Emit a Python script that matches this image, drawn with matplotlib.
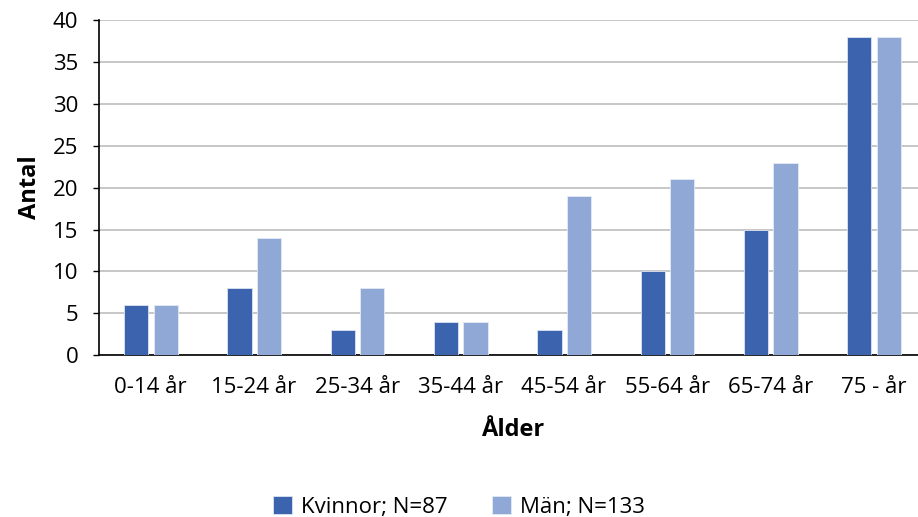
import numpy as np
import matplotlib.pyplot as plt

plt.rcParams['font.family'] = ['Open Sans', 'DejaVu Sans']

kategorier = ["0-14 år", "15-24 år", "25-34 år", "35-44 år", "45-54 år",
              "55-64 år", "65-74 år", "75 - år"]
kvinnor = [6, 8, 3, 4, 3, 10, 15, 38]
man = [6, 14, 8, 4, 19, 21, 23, 38]

fig = plt.figure(figsize=(9.18, 5.17), dpi=100)
# axeln går lite utanför högerkanten som i originalet
ax = fig.add_axes([0.108, 0.313, 0.9, 0.648])

x = np.arange(len(kategorier))
b = 0.235
ax.bar(x - 0.14, kvinnor, b, color="#3C64AE", edgecolor="#DDE4F2", linewidth=0.6,
       label="Kvinnor; N=87", zorder=3)
ax.bar(x + 0.145, man, b, color="#90A8D6", edgecolor="#E4EAF5", linewidth=0.6,
       label="Män; N=133", zorder=3)

ax.set_xlim(-0.5, len(kategorier) - 0.5)
ax.set_ylim(0, 40)
ax.set_yticks(range(0, 41, 5))
ax.set_xticks(x)
ax.set_xticklabels(kategorier, fontsize=16)
ax.tick_params(axis='y', labelsize=16, length=4, width=1, direction='out', pad=11)
ax.tick_params(axis='x', length=0, pad=16)
ax.grid(axis='y', color="#BDBDBD", linewidth=1.2, zorder=0)
for s in ["top", "right"]:
    ax.spines[s].set_visible(False)
ax.spines["left"].set_linewidth(1.2)
ax.spines["bottom"].set_linewidth(1.2)
ax.set_ylabel("Antal", fontsize=17, fontweight="bold", labelpad=8)
ax.set_xlabel("Ålder", fontsize=17, fontweight="bold", labelpad=14)

fig.legend(loc="lower center", ncol=2, frameon=False, fontsize=16,
           bbox_to_anchor=(0.5, -0.04), handlelength=0.85, handleheight=0.85,
           columnspacing=2.0, handletextpad=0.4)

fig.savefig("out.png", dpi=100)
